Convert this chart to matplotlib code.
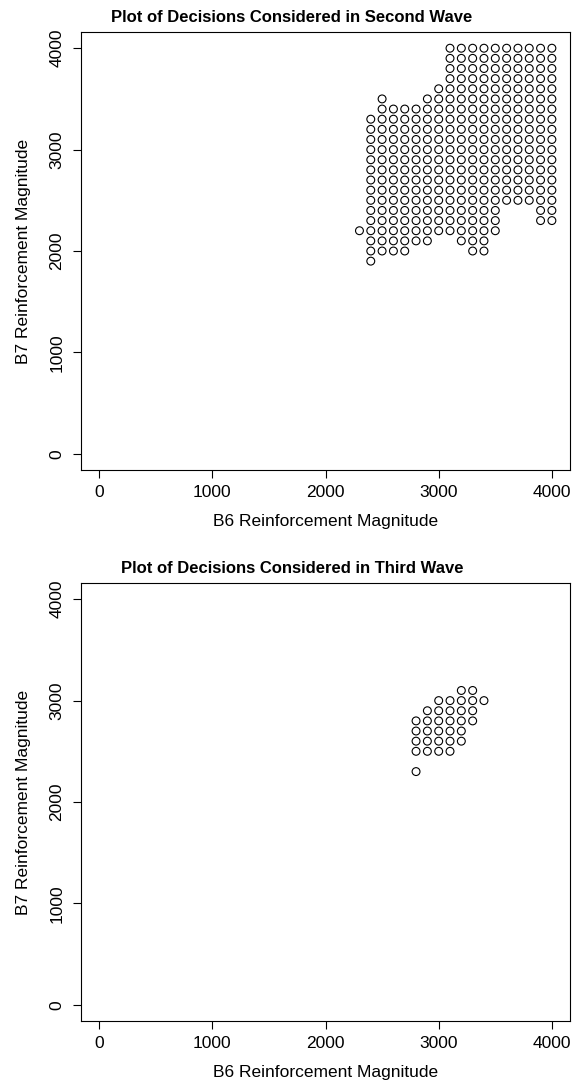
import matplotlib.pyplot as plt
import numpy as np

plt.rcParams['font.family'] = ['Liberation Sans', 'DejaVu Sans']

ticks = [0, 1000, 2000, 3000, 4000]

# second wave: grid step is 100, so each B6 column is stored as the
# lowest and highest B7 value
wave2_b6 = [2300, 2400, 2500, 2600, 2700, 2800, 2900, 3000, 3100,
            3200, 3300, 3400, 3500, 3600, 3700, 3800, 3900, 4000]
wave2_lo = [2200, 1900, 2000, 2000, 2000, 2100, 2100, 2200, 2200,
            2100, 2000, 2000, 2200, 2500, 2500, 2500, 2300, 2300]
wave2_hi = [2200, 3300, 3500, 3400, 3400, 3400, 3500, 3600, 4000,
            4000, 4000, 4000, 4000, 4000, 4000, 4000, 4000, 4000]

# third wave points
wave3_b6 = [3200, 3300,
            3000, 3100, 3200, 3300, 3400,
            2900, 3000, 3100, 3200, 3300,
            2800, 2900, 3000, 3100, 3200, 3300,
            2800, 2900, 3000, 3100, 3200,
            2800, 2900, 3000, 3100, 3200,
            2800, 2900, 3000, 3100,
            2800]
wave3_b7 = [3100, 3100,
            3000, 3000, 3000, 3000, 3000,
            2900, 2900, 2900, 2900, 2900,
            2800, 2800, 2800, 2800, 2800, 2800,
            2700, 2700, 2700, 2700, 2700,
            2600, 2600, 2600, 2600, 2600,
            2500, 2500, 2500, 2500,
            2300]

w2x, w2y = [], []
for x, lo, hi in zip(wave2_b6, wave2_lo, wave2_hi):
    for y in range(lo, hi + 1, 100):
        w2x.append(x)
        w2y.append(y)

fig = plt.figure(figsize=(5.84, 10.87), dpi=100)
W, H = 584, 1087

panels = [
    (32, "Plot of Decisions Considered in Second Wave", w2x, w2y),
    (583, "Plot of Decisions Considered in Third Wave", wave3_b6, wave3_b7),
]

for top, title, xs, ys in panels:
    ax = fig.add_axes([81 / W, (H - top - 438) / H, 489 / W, 438 / H])
    ax.scatter(xs, ys, s=32, facecolors="none", edgecolors="black", linewidths=0.8)
    ax.set_xlim(-160, 4160)
    ax.set_ylim(-160, 4160)
    ax.set_xticks(ticks)
    ax.set_yticks(ticks)
    ax.tick_params(direction="out", length=6, width=0.8, labelsize=12.5, pad=5)
    ax.tick_params(axis="y", pad=6)
    plt.setp(ax.get_yticklabels(), rotation=90, va="center")
    for s in ax.spines.values():
        s.set_linewidth(0.8)
    ax.set_xlabel("B6 Reinforcement Magnitude", fontsize=12.5, labelpad=10)
    ax.set_ylabel("B7 Reinforcement Magnitude", fontsize=12.5, labelpad=13)
    fig.text(0.5, 1 - (top - 15) / H, title, ha="center", va="center",
             fontsize=12, fontweight="bold")

fig.savefig("out.png", dpi=100)
